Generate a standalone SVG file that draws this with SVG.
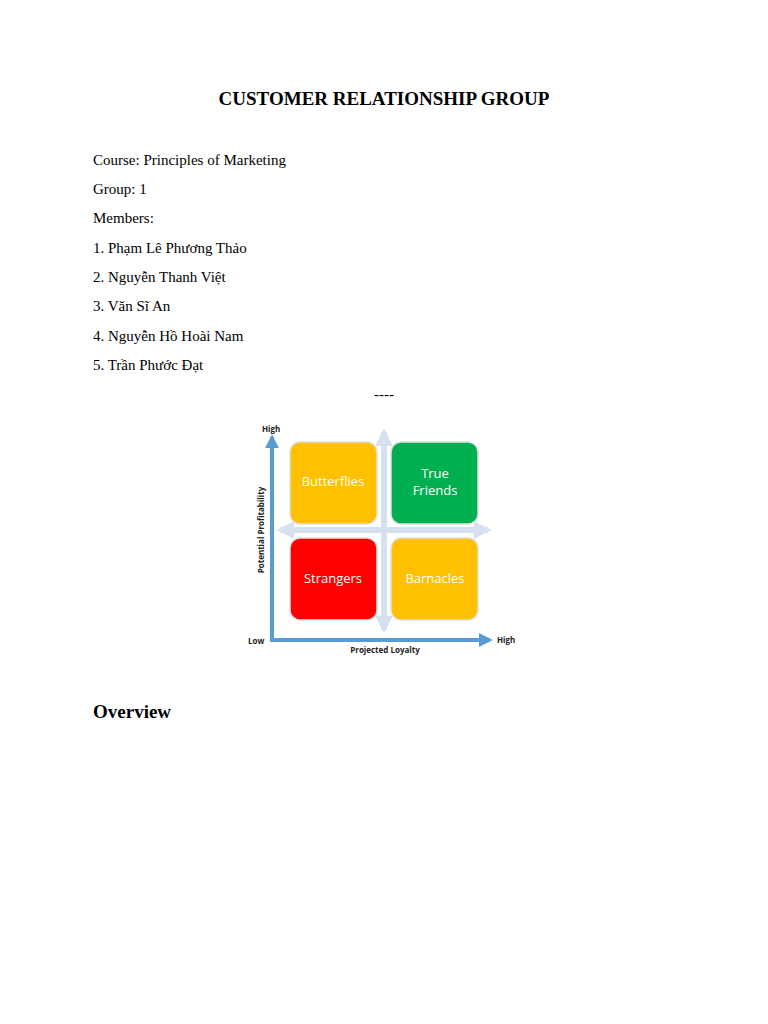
<svg xmlns="http://www.w3.org/2000/svg" width="768" height="1024" viewBox="0 0 768 1024">
<style>
.t{font-family:"Liberation Serif",serif;fill:#000}
.b{font-size:15px}
.s{font-family:"Open Sans","Liberation Sans",sans-serif;font-weight:bold;font-size:8px;fill:#222}
.box{stroke:#e0e0e0;stroke-width:1.5}
.lbl{font-family:"Open Sans","Liberation Sans",sans-serif;font-size:13px;fill:#fff;text-anchor:middle}
</style>
<defs>
<marker id="ab" viewBox="0 0 10 10" refX="8" refY="5" markerWidth="3.5" markerHeight="3.5" orient="auto"><path d="M0,0L10,5L0,10z" fill="#5b9bd5"/></marker>
<marker id="al" viewBox="0 0 10 10" refX="8" refY="5" markerWidth="3" markerHeight="3" orient="auto-start-reverse"><path d="M0,0L10,5L0,10z" fill="#d6e1ef"/></marker>
</defs>
<rect width="768" height="1024" fill="#fff"/>
<text class="t" x="384" y="105" font-size="19" font-weight="bold" text-anchor="middle">CUSTOMER RELATIONSHIP GROUP</text>
<g class="t b">
<text x="93" y="165">Course: Principles of Marketing</text>
<text x="93" y="194">Group: 1</text>
<text x="93" y="223">Members:</text>
<text x="93" y="253">1. Phạm Lê Phương Thảo</text>
<text x="93" y="282">2. Nguyễn Thanh Việt</text>
<text x="93" y="311">3. Văn Sĩ An</text>
<text x="93" y="341">4. Nguyễn Hồ Hoài Nam</text>
<text x="93" y="370">5. Trần Phước Đạt</text>
<text x="384" y="399" text-anchor="middle">----</text>
</g>
<g id="connectors">
<line x1="384" y1="630" x2="384" y2="432" stroke="#d6e1ef" stroke-width="6" marker-end="url(#al)" marker-start="url(#al)"/>
<line x1="280" y1="530" x2="488" y2="530" stroke="#d6e1ef" stroke-width="6" marker-end="url(#al)" marker-start="url(#al)"/>
<line x1="272" y1="640" x2="272" y2="437" stroke="#5b9bd5" stroke-width="4" marker-end="url(#ab)"/>
<line x1="270" y1="640" x2="490" y2="640" stroke="#5b9bd5" stroke-width="4" marker-end="url(#ab)"/>
</g>
<g id="butterflies"><rect class="box" x="290" y="442" width="87" height="82" rx="10" fill="#ffc000"/><text class="lbl" x="333" y="486">Butterflies</text></g>
<g id="truefriends"><rect class="box" x="391" y="442" width="87" height="82" rx="10" fill="#00b050"/><text class="lbl" x="435" y="478">True</text><text class="lbl" x="435" y="495">Friends</text></g>
<g id="strangers"><rect class="box" x="290" y="538" width="87" height="82" rx="10" fill="#ff0000"/><text class="lbl" x="333" y="583">Strangers</text></g>
<g id="barnacles"><rect class="box" x="391" y="538" width="87" height="82" rx="10" fill="#ffc000"/><text class="lbl" x="435" y="583">Barnacles</text></g>
<text class="s" x="262" y="432">High</text>
<text class="s" x="248" y="644">Low</text>
<text class="s" x="497" y="643">High</text>
<text class="s" x="385" y="653" text-anchor="middle" font-size="10">Projected Loyalty</text>
<text class="s" transform="translate(264,530) rotate(-90)" text-anchor="middle" font-size="10">Potential Profitability</text>
<text class="t" x="93" y="718" font-size="19" font-weight="bold">Overview</text>
</svg>
